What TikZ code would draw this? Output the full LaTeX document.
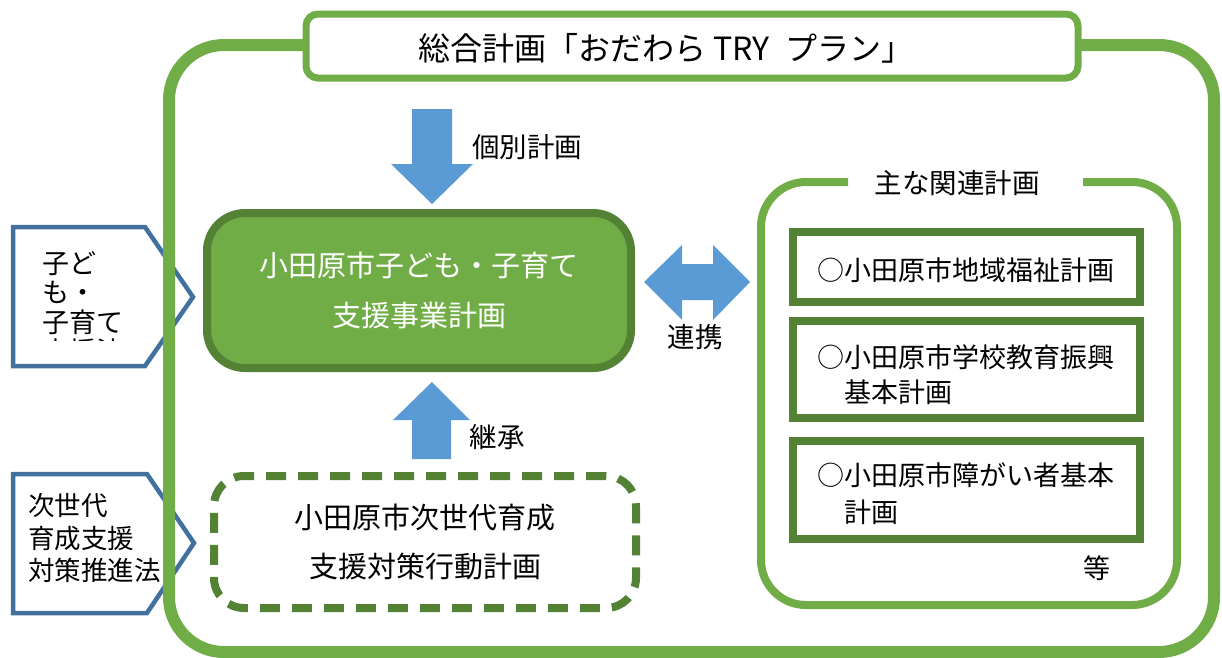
\documentclass[tikz,border=0pt]{standalone}
\usepackage{fontspec}
\setmainfont{Noto Sans CJK JP}
\definecolor{framegreen}{HTML}{70AD47}
\definecolor{darkgreen}{HTML}{548235}
\definecolor{arrowblue}{HTML}{5B9BD5}
\definecolor{lawblue}{HTML}{41719C}

\begin{document}
\begin{tikzpicture}[x=1pt, y=-1pt,
    txt/.style={font=\fontsize{27}{33}\selectfont, inner sep=0pt},
    lawshape/.style={draw=lawblue, line width=4.5, fill=white},
    planbox/.style={draw=darkgreen, line width=8, fill=white, minimum width=347, minimum height=#1},
    blockarrow/.style={fill=arrowblue}]
        \useasboundingbox (0,0) rectangle (1222,657);

        \coordinate (P1) at (13,227);
        \coordinate (P2) at (13,474);

        \draw[lawshape] (P1) -- ++(132,0) -- ++(48,70) -- ++(-48,69) -- ++(-132,0) -- cycle;
        \begin{scope}
            \clip (15,229) rectangle (160,340);
            \node[txt, anchor=north west, align=left, font=\fontsize{27}{29.5}\selectfont] (kodomoho) at (42,251) {子ど\\も・\\子育て\\支援法};
        \end{scope}

        \draw[lawshape] (P2) -- ++(134,0) -- ++(47,69) -- ++(-47,70) -- ++(-134,0) -- cycle;
        \node[txt, anchor=west, align=left, font=\fontsize{26.5}{32.5}\selectfont] (jisedaiho) at (28,538) {次世代\\育成支援\\対策推進法};

        \draw[framegreen, line width=12, rounded corners=55] (169,45) rectangle (1214,652);

        \node[draw=framegreen, line width=7, fill=white, rounded corners=12, minimum width=772, minimum height=64] (sogo) at (692,46) {};
        \node[txt, font=\fontsize{32}{33}\selectfont] (sogotitle) at (666,48) {総合計画「おだわら TRY\enspace プラン」};

        \fill[blockarrow] (412,109) -- (452,109) -- (452,164) -- (473,164) -- (432,204) -- (391,164) -- (412,164) -- cycle;
        \node[txt, font=\fontsize{27.5}{33}\selectfont] (kobetsu) at (527,147) {個別計画};

        \node[txt, draw=darkgreen, fill=framegreen, line width=8, rounded corners=38, minimum width=424, minimum height=155,
              text=white, align=center, font=\fontsize{29}{50}\selectfont] (jigyo) at (419,290.5) {小田原市子ども・子育て\\支援事業計画};

        \fill[blockarrow] (432,382) -- (470,420) -- (451,420) -- (451,459) -- (412,459) -- (412,420) -- (393,420) -- cycle;
        \node[txt, font=\fontsize{27.5}{33}\selectfont] (keisho) at (497,437) {継承};

        \node[txt, draw=darkgreen, line width=8, dash pattern=on 20pt off 12pt, rounded corners=30, minimum width=422, minimum height=132,
              align=center, font=\fontsize{29}{49}\selectfont] (kodo) at (425,542) {小田原市次世代育成\\支援対策行動計画};

        \fill[blockarrow] (644,282) -- (682,245) -- (682,264) -- (713,264) -- (713,245) -- (750,282)
            -- (713,320) -- (713,300) -- (682,300) -- (682,320) -- cycle;
        \node[txt, font=\fontsize{27.5}{33}\selectfont] (renkei) at (695,337) {連携};

        \draw[framegreen, line width=8, rounded corners=45] (848,182) -- (761,182) -- (761,605) -- (1177,605) -- (1177,182) -- (1083,182);
        \node[txt, font=\fontsize{27.5}{33}\selectfont] (kanren) at (957,183) {主な関連計画};

        \node[planbox=70] (fukushi) at (966.5,267) {};
        \node[planbox=97] (kyoiku) at (966.5,369.5) {};
        \node[planbox=98] (shogai) at (966.5,490) {};

        \node[txt, anchor=west] (fukushitext) at (817,270) {○小田原市地域福祉計画};
        \node[txt, anchor=west, align=left, font=\fontsize{27}{35}\selectfont] (kyoikutext) at (817,374.5) {○小田原市学校教育振興\\\phantom{○}基本計画};
        \node[txt, anchor=west, align=left, font=\fontsize{27}{37}\selectfont] (shogaitext) at (817,493.5) {○小田原市障がい者基本\\\phantom{○}計画};
        \node[txt] (nado) at (1097,568) {等};
\end{tikzpicture}
\end{document}
